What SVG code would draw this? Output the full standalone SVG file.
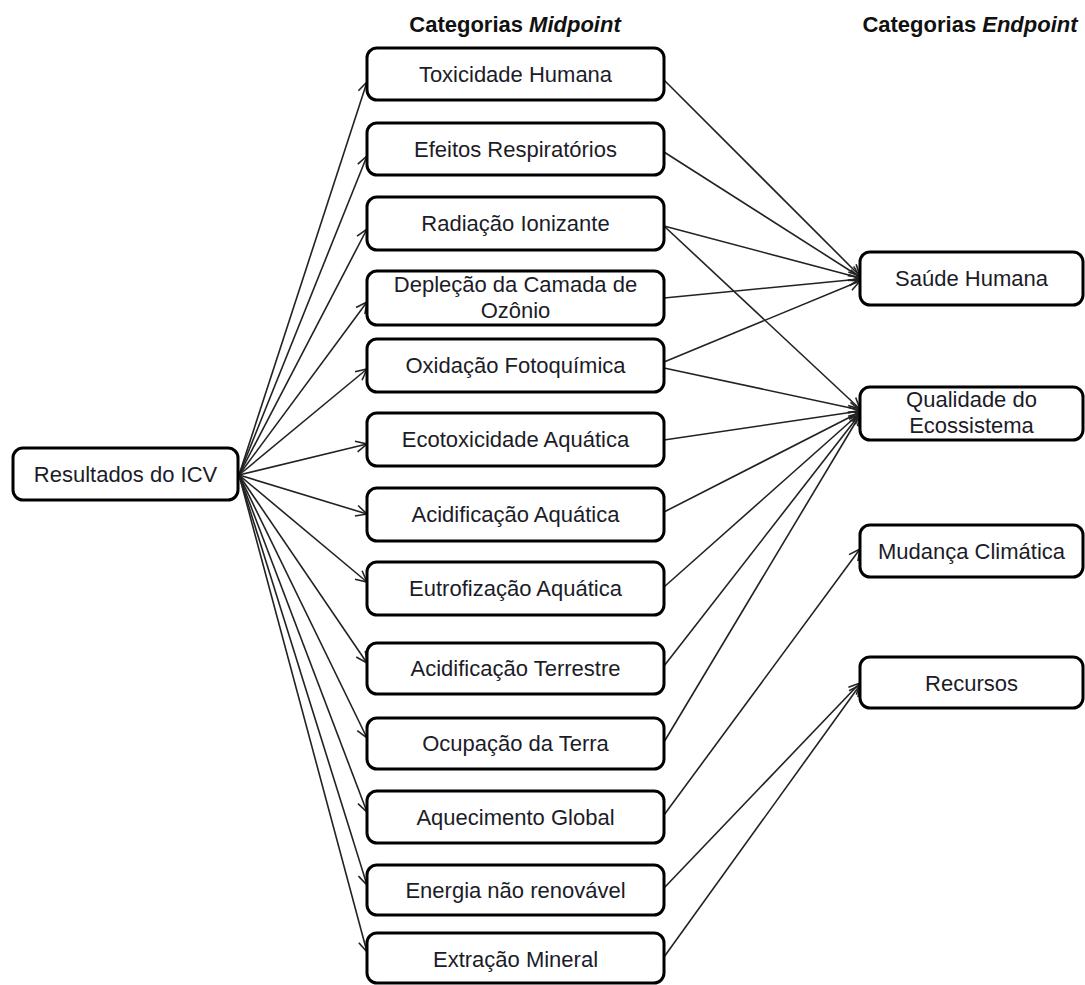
<svg xmlns="http://www.w3.org/2000/svg" width="1085" height="985" viewBox="0 0 1085 985">
  <style>
    .box { fill: #ffffff; stroke: #000000; stroke-width: 3; }
    .lbl { font-family: "Liberation Sans", Arial, sans-serif; font-size: 22px; fill: #1c1c28; text-anchor: middle; }
    .hdr { font-family: "Liberation Sans", Arial, sans-serif; font-size: 22px; font-weight: bold; fill: #111111; }
    .link { fill: none; stroke: #222222; stroke-width: 1.6; marker-end: url(#arrow); }
  </style>
  <defs>
    <marker id="arrow" markerUnits="userSpaceOnUse" markerWidth="14" markerHeight="14" viewBox="0 0 14 14" refX="12" refY="7" orient="auto">
      <path d="M1,1.5 L12,7 L1,12.5" fill="none" stroke="#222222" stroke-width="1.6"/>
    </marker>
  </defs>

  <rect width="1085" height="985" fill="#ffffff"/>

  <!-- column headings -->
  <g id="headings">
    <text class="hdr" x="515" y="32" text-anchor="middle">Categorias <tspan font-style="italic">Midpoint</tspan></text>
    <text class="hdr" x="970" y="32" text-anchor="middle">Categorias <tspan font-style="italic">Endpoint</tspan></text>
  </g>

  <!-- connectors -->
  <g id="connectors">
    <!-- inventory results to midpoint categories -->
    <line class="link" x1="239" y1="475" x2="367" y2="82"/>
    <line class="link" x1="239" y1="475" x2="367" y2="156"/>
    <line class="link" x1="239" y1="475" x2="367" y2="229"/>
    <line class="link" x1="239" y1="475" x2="367" y2="302"/>
    <line class="link" x1="239" y1="475" x2="367" y2="369"/>
    <line class="link" x1="239" y1="475" x2="367" y2="444"/>
    <line class="link" x1="239" y1="475" x2="367" y2="514"/>
    <line class="link" x1="239" y1="475" x2="367" y2="582"/>
    <line class="link" x1="239" y1="475" x2="367" y2="663"/>
    <line class="link" x1="239" y1="475" x2="367" y2="738"/>
    <line class="link" x1="239" y1="475" x2="367" y2="812"/>
    <line class="link" x1="239" y1="475" x2="367" y2="885"/>
    <line class="link" x1="239" y1="475" x2="367" y2="952"/>

    <!-- midpoint categories to endpoint categories -->
    <line class="link" x1="664" y1="80" x2="860" y2="276"/>
    <line class="link" x1="664" y1="152" x2="860" y2="277"/>
    <line class="link" x1="664" y1="226" x2="860" y2="278"/>
    <line class="link" x1="664" y1="226" x2="860" y2="409"/>
    <line class="link" x1="664" y1="298" x2="860" y2="279"/>
    <line class="link" x1="664" y1="362" x2="860" y2="281"/>
    <line class="link" x1="664" y1="368" x2="860" y2="410"/>
    <line class="link" x1="664" y1="440" x2="860" y2="411"/>
    <line class="link" x1="664" y1="512" x2="860" y2="412"/>
    <line class="link" x1="664" y1="587" x2="860" y2="413"/>
    <line class="link" x1="664" y1="666" x2="860" y2="414"/>
    <line class="link" x1="664" y1="742" x2="860" y2="415"/>
    <line class="link" x1="664" y1="815" x2="860" y2="549"/>
    <line class="link" x1="664" y1="888" x2="860" y2="683"/>
    <line class="link" x1="664" y1="957" x2="860" y2="685"/>
  </g>

  <!-- inventory results -->
  <g id="node-icv">
    <rect class="box" x="13" y="448" width="225" height="52" rx="10"/>
    <text class="lbl" x="125.5" y="482">Resultados do ICV</text>
  </g>

  <!-- midpoint categories -->
  <g id="node-toxicidade-humana">
    <rect class="box" x="367" y="48" width="297" height="52" rx="10"/>
    <text class="lbl" x="515.5" y="82">Toxicidade Humana</text>
  </g>
  <g id="node-efeitos-respiratorios">
    <rect class="box" x="367" y="123" width="297" height="52" rx="10"/>
    <text class="lbl" x="515.5" y="157">Efeitos Respiratórios</text>
  </g>
  <g id="node-radiacao-ionizante">
    <rect class="box" x="367" y="197" width="297" height="53" rx="10"/>
    <text class="lbl" x="515.5" y="231">Radiação Ionizante</text>
  </g>
  <g id="node-deplecao-ozonio">
    <rect class="box" x="367" y="271" width="297" height="54" rx="10"/>
    <text class="lbl" x="515.5" y="292">Depleção da Camada de</text>
    <text class="lbl" x="515.5" y="318">Ozônio</text>
  </g>
  <g id="node-oxidacao-fotoquimica">
    <rect class="box" x="367" y="339" width="297" height="53" rx="10"/>
    <text class="lbl" x="515.5" y="373">Oxidação Fotoquímica</text>
  </g>
  <g id="node-ecotoxicidade-aquatica">
    <rect class="box" x="367" y="413" width="297" height="53" rx="10"/>
    <text class="lbl" x="515.5" y="447">Ecotoxicidade Aquática</text>
  </g>
  <g id="node-acidificacao-aquatica">
    <rect class="box" x="367" y="488" width="297" height="53" rx="10"/>
    <text class="lbl" x="515.5" y="522">Acidificação Aquática</text>
  </g>
  <g id="node-eutrofizacao-aquatica">
    <rect class="box" x="367" y="562" width="297" height="53" rx="10"/>
    <text class="lbl" x="515.5" y="596">Eutrofização Aquática</text>
  </g>
  <g id="node-acidificacao-terrestre">
    <rect class="box" x="367" y="643" width="297" height="51" rx="10"/>
    <text class="lbl" x="515.5" y="676">Acidificação Terrestre</text>
  </g>
  <g id="node-ocupacao-terra">
    <rect class="box" x="367" y="718" width="297" height="51" rx="10"/>
    <text class="lbl" x="515.5" y="751">Ocupação da Terra</text>
  </g>
  <g id="node-aquecimento-global">
    <rect class="box" x="367" y="791" width="297" height="52" rx="10"/>
    <text class="lbl" x="515.5" y="825">Aquecimento Global</text>
  </g>
  <g id="node-energia-nao-renovavel">
    <rect class="box" x="367" y="865" width="297" height="50" rx="10"/>
    <text class="lbl" x="515.5" y="898">Energia não renovável</text>
  </g>
  <g id="node-extracao-mineral">
    <rect class="box" x="367" y="933" width="297" height="50" rx="10"/>
    <text class="lbl" x="515.5" y="967">Extração Mineral</text>
  </g>

  <!-- endpoint categories -->
  <g id="node-saude-humana">
    <rect class="box" x="860" y="252" width="223" height="53" rx="10"/>
    <text class="lbl" x="971.5" y="286">Saúde Humana</text>
  </g>
  <g id="node-qualidade-ecossistema">
    <rect class="box" x="860" y="387" width="223" height="53" rx="10"/>
    <text class="lbl" x="971.5" y="407">Qualidade do</text>
    <text class="lbl" x="971.5" y="433">Ecossistema</text>
  </g>
  <g id="node-mudanca-climatica">
    <rect class="box" x="860" y="525" width="223" height="52" rx="10"/>
    <text class="lbl" x="971.5" y="559">Mudança Climática</text>
  </g>
  <g id="node-recursos">
    <rect class="box" x="860" y="657" width="223" height="51" rx="10"/>
    <text class="lbl" x="971.5" y="691">Recursos</text>
  </g>
</svg>
